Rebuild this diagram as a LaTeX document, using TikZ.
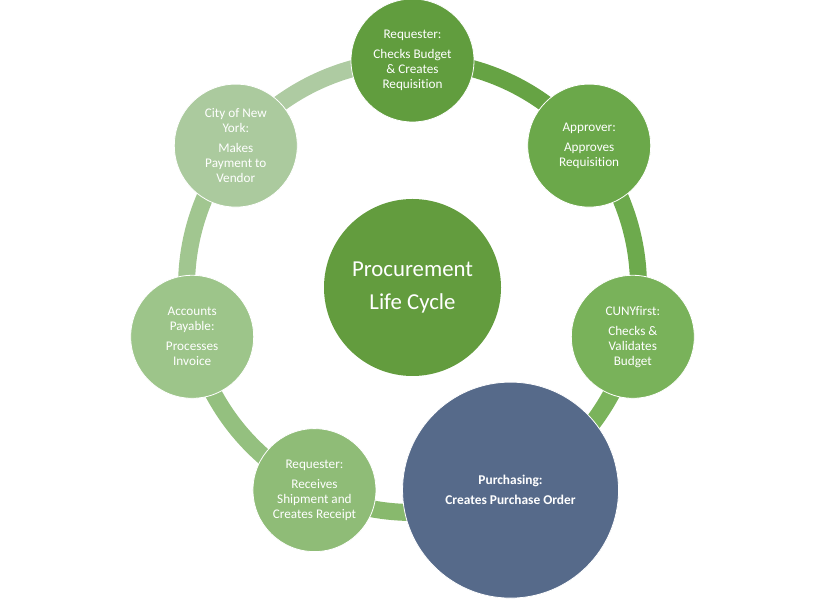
\documentclass[tikz,border=0pt]{standalone}
\usepackage{fontspec}
\setmainfont{Carlito}[Ligatures=NoCommon]
\definecolor{cCenter}{HTML}{639C3E}
\definecolor{cTop}{HTML}{619D3E}
\definecolor{cAppr}{HTML}{6BA84A}
\definecolor{cCuny}{HTML}{79B25A}
\definecolor{cPurch}{HTML}{566A8A}
\definecolor{cReq}{HTML}{8FBC77}
\definecolor{cAcc}{HTML}{9DC58A}
\definecolor{cCity}{HTML}{ABCA9E}
\definecolor{aOne}{HTML}{66A344}
\definecolor{aTwo}{HTML}{6DAA4D}
\definecolor{aThree}{HTML}{7AB35B}
\definecolor{aFour}{HTML}{88B96D}
\definecolor{aFive}{HTML}{94C07F}
\definecolor{aSix}{HTML}{A1C690}
\definecolor{aSeven}{HTML}{AECBA2}
\begin{document}
\begin{tikzpicture}[x=1pt,y=1pt,
  seg/.style={line width=17pt},
  stage/.style={circle, draw=white, line width=0.8pt, minimum size=123pt, inner sep=0pt,
    text=white, align=center, font=\fontsize{13.2}{15}\selectfont},
  hub/.style={circle, minimum size=177pt, inner sep=0pt, text=white, align=center,
    font=\fontsize{22.8}{33}\selectfont}]
\useasboundingbox (0,0) rectangle (824,599);
\coordinate (C) at (412.5,312.5);
% ring segments
\draw[seg, aOne]   ([shift={(90:226)}]C) arc[start angle=90, end angle=38.57, radius=226];
\draw[seg, aTwo]   ([shift={(38.57:226)}]C) arc[start angle=38.57, end angle=-12.86, radius=226];
\draw[seg, aThree] ([shift={(-12.86:226)}]C) arc[start angle=-12.86, end angle=-64.29, radius=226];
\draw[seg, aFour]  ([shift={(-64.29:226)}]C) arc[start angle=-64.29, end angle=-115.71, radius=226];
\draw[seg, aFive]  ([shift={(-115.71:226)}]C) arc[start angle=-115.71, end angle=-167.14, radius=226];
\draw[seg, aSix]   ([shift={(-167.14:226)}]C) arc[start angle=-167.14, end angle=-218.57, radius=226];
\draw[seg, aSeven] ([shift={(141.43:226)}]C) arc[start angle=141.43, end angle=90, radius=226];
% center
\node[hub, fill=cCenter] (hub) at (412.5,311.5) {Procurement\\Life Cycle};
% stages
\node[stage, fill=cTop] (n1) at ([shift={(90:226)}]C) {Requester:\\[5pt]Checks Budget\\\& Creates\\Requisition};
\node[stage, fill=cAppr] (n2) at ([shift={(38.57:226)}]C) {Approver:\\[5pt]Approves\\Requisition};
\node[stage, fill=cCuny] (n3) at ([shift={(-12.86:226)}]C) {CUNYfirst:\\[5pt]Checks \&\\Validates\\Budget};
\node[stage, fill=cPurch, minimum size=216pt, font=\bfseries\fontsize{13.4}{20}\selectfont] (n4) at ([shift={(-64.29:226)}]C) {Purchasing:\\Creates Purchase Order};
\node[stage, fill=cReq] (n5) at ([shift={(-115.71:226)}]C) {Requester:\\[5pt]Receives\\Shipment and\\Creates Receipt};
\node[stage, fill=cAcc] (n6) at ([shift={(-167.14:226)}]C) {Accounts\\Payable:\\[5pt]Processes\\Invoice};
\node[stage, fill=cCity] (n7) at ([shift={(141.43:226)}]C) {City of New\\York:\\[5pt]Makes\\Payment to\\Vendor};
\end{tikzpicture}
\end{document}
